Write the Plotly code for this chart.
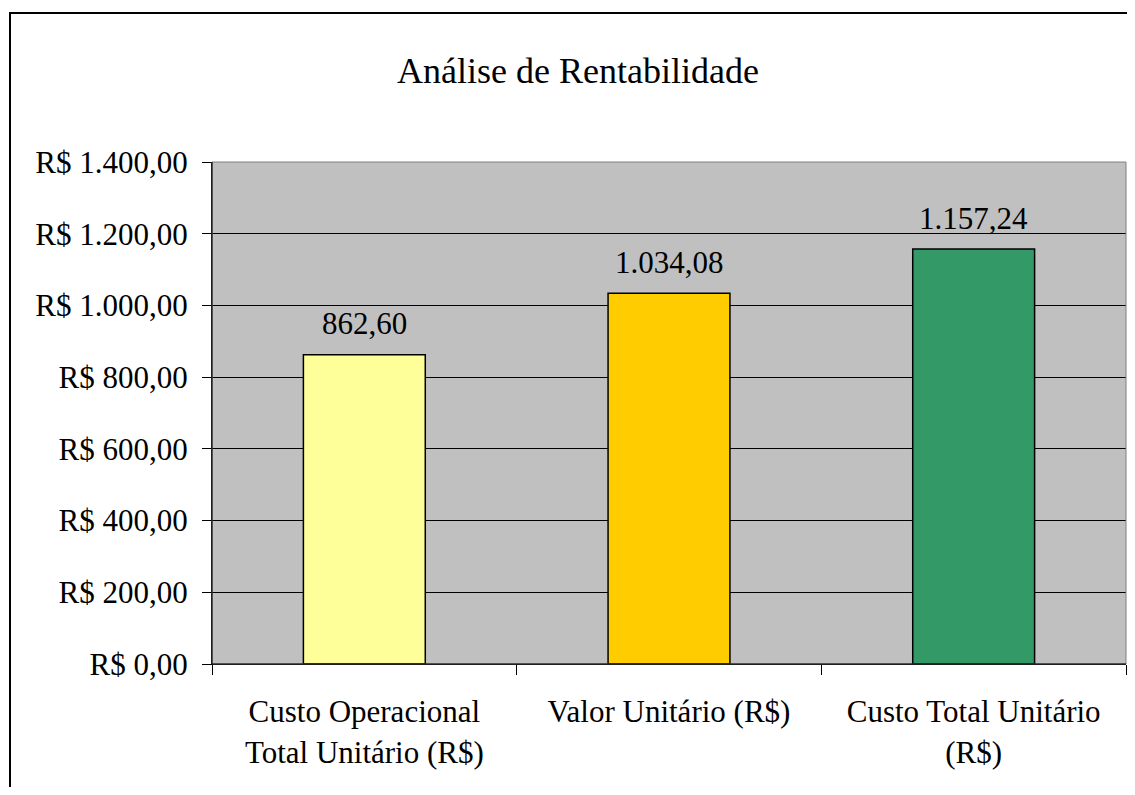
import plotly.graph_objects as go

categories = ["Custo Operacional<br>Total Unitário (R$)", "Valor Unitário (R$)", "Custo Total Unitário<br>(R$)"]
values = [862.60, 1034.08, 1157.24]
bar_colors = ["#FFFF99", "#FFCC00", "#339966"]
y_ticks = [0, 200, 400, 600, 800, 1000, 1200, 1400]


def br(v, prefix=""):
    s = f"{v:,.2f}".replace(",", "X").replace(".", ",").replace("X", ".")
    return prefix + s


y_ticktext = [br(v, "R$ ") for v in y_ticks]
labels = [br(v) for v in values]

FONT = "Liberation Serif, Times New Roman, serif"

# page body adds an 8px margin; keep the figure inside the window
W, H = 1119, 779
ML, MR, MT, MB = 204, 1, 154, 123
PW = W - ML - MR
PH = H - MT - MB

fig = go.Figure()
fig.add_trace(go.Bar(
    x=categories,
    y=values,
    marker=dict(color=bar_colors, line=dict(color="black", width=1.5)),
    hoverinfo="skip",
))

for c, v, t in zip(categories, values, labels):
    fig.add_annotation(
        x=c, y=v, text=t, showarrow=False,
        yanchor="middle", yshift=31,
        font=dict(family=FONT, size=31, color="black"),
    )

fig.update_layout(
    width=W,
    height=H,
    margin=dict(l=ML, r=MR, t=MT, b=MB),
    paper_bgcolor="white",
    plot_bgcolor="#C0C0C0",
    bargap=0.6,
    showlegend=False,
    font=dict(family=FONT, size=31, color="black"),
    title=dict(
        text="Análise de Rentabilidade",
        font=dict(family=FONT, size=36, color="black"),
        x=570 / W, xanchor="center", xref="container",
        y=1 - 62 / H, yanchor="middle", yref="container",
    ),
    xaxis=dict(
        showline=True, linecolor="black", linewidth=1,
        ticks="outside", ticklen=10, tickcolor="black", tickwidth=1,
        tickson="boundaries",
        showgrid=False,
        tickfont=dict(family=FONT, size=31, color="black"),
        ticklabelstandoff=20,
    ),
    yaxis=dict(
        range=[0, 1400],
        tickvals=y_ticks,
        ticktext=y_ticktext,
        showline=True, linecolor="black", linewidth=1,
        ticks="outside", ticklen=9, tickcolor="black", tickwidth=1,
        showgrid=True, gridcolor="black", gridwidth=1,
        zeroline=False,
        tickfont=dict(family=FONT, size=31, color="black"),
        ticklabelstandoff=8,
    ),
    shapes=[
        dict(type="rect", xref="paper", yref="paper", x0=0, x1=1, y0=0, y1=1,
             line=dict(color="#808080", width=1), fillcolor="rgba(0,0,0,0)", layer="above"),
        dict(type="line", xref="paper", yref="paper", x0=0, x1=0, y0=0, y1=1,
             line=dict(color="black", width=1), layer="above"),
        dict(type="line", xref="paper", yref="paper", x0=0, x1=1, y0=0, y1=0,
             line=dict(color="black", width=1), layer="above"),
    ],
)

# outer chart border (left and top edges visible; right/bottom beyond the picture)
fig.add_shape(type="rect", xref="paper", yref="paper",
              x0=(2 - ML) / PW, x1=(PW + MR + 30) / PW,
              y0=-(MB + 30) / PH, y1=1 + (MT - 5) / PH,
              line=dict(color="black", width=2), fillcolor="rgba(0,0,0,0)", layer="below")

fig.write_html("out.html")
